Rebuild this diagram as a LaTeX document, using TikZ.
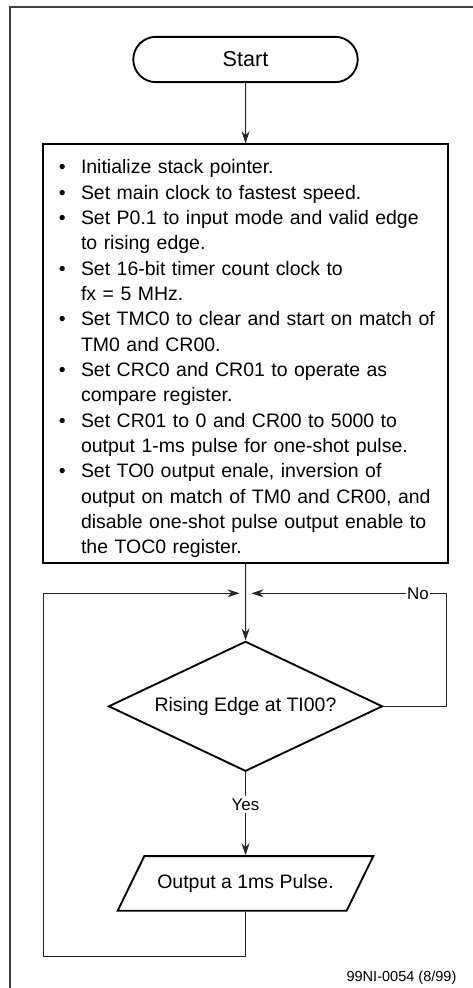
\documentclass[tikz,border=0pt]{standalone}
\usepackage{fontspec}
\setmainfont{Liberation Sans}
\usetikzlibrary{shapes.geometric,shapes.misc,arrows.meta}
\tikzset{flowline/.style={draw=black!85,line width=0.7pt},
    flowarrow/.style={flowline,-{Stealth[length=9pt,width=6pt]}},
    startstop/.style={rounded rectangle,draw,line width=1.4pt,minimum width=175pt,minimum height=34pt,
        font=\fontsize{16.2pt}{18pt}\selectfont},
    initbox/.style={rectangle,draw,line width=1.5pt,text width=288.75pt,inner xsep=7.5pt,
        minimum height=313.8pt,align=left,font=\fontsize{14.6pt}{19pt}\selectfont},
    decision/.style={diamond,draw,line width=1.4pt,aspect=2.1,inner sep=0pt,minimum width=205.5pt,
        minimum height=97.5pt,font=\fontsize{14.6pt}{18pt}\selectfont},
    iobox/.style={trapezium,trapezium left angle=64,trapezium right angle=116,draw,line width=1.4pt,
        inner xsep=9.75pt,inner ysep=13.65pt,font=\fontsize{14.6pt}{18pt}\selectfont},
    branchlabel/.style={fill=white,inner xsep=1pt,inner ysep=2pt,font=\fontsize{12.7pt}{14pt}\selectfont},
    frame/.style={draw=black!75,line width=1.3pt}}
\newcommand{\bitem}{\makebox[20.8pt][l]{\hspace{4.2pt}\textbullet}}
\newcommand{\bcont}{\hspace*{20.8pt}}

\begin{document}
\begin{tikzpicture}[x=0.75pt,y=0.75pt,yscale=-1,xscale=1]
\useasboundingbox (0,0) rectangle (473,988);

%Shape: Frame
\draw [frame] (10,988) -- (10,7) -- (473,7);

%Shape: Terminal
\node [startstop] (start) at (245.5,59.5) {Start};
%Shape: Rectangle
\node [initbox] (init) at (245.8,353.5) {%
\rule{0pt}{18.6pt}\bitem Initialize stack pointer.\\
\bitem Set main clock to fastest speed.\\
\bitem Set P0.1 to input mode and valid edge\\
\bcont to rising edge.\\
\bitem Set 16-bit timer count clock to\\
\bcont fx = 5 MHz.\\
\bitem Set TMC0 to clear and start on match of\\
\bcont TM0 and CR00.\\
\bitem Set CRC0 and CR01 to operate as\\
\bcont compare register.\\
\bitem Set CR01 to 0 and CR00 to 5000 to\\
\bcont output 1-ms pulse for one-shot pulse.\\
\bitem Set TO0 output enale, inversion of\\
\bcont output on match of TM0 and CR00, and\\
\bcont disable one-shot pulse output enable to\\
\bcont the TOC0 register.};
%Shape: Diamond
\node [decision] (edge) at (245.5,706.3) {Rising Edge at TI00?};
%Shape: Parallelogram
\node [iobox] (pulse) at (245.5,883.4) {Output a 1ms Pulse.};

\coordinate (merge) at (245.5,593.3);
\coordinate (noturn) at (446.7,593.3);
\coordinate (loopturn) at (43.3,956.7);

%Straight Lines
\draw [flowarrow] (start) -- (init);
\draw [flowarrow] (init) -- (edge);
\draw [flowarrow] (edge) -- node [branchlabel,pos=0.39] {Yes} (pulse);
%Loop Lines
\draw [flowarrow,shorten >=4.5pt] (edge.east) -| (noturn) -- node [branchlabel,pos=0.143] {No} (merge);
\draw [flowarrow,shorten >=4.5pt] (pulse.south) |- (loopturn) |- (merge);

% Text Node
\node [anchor=east,inner sep=0pt,font=\fontsize{10.9pt}{12pt}\selectfont] (figno) at (456.7,978) {99NI-0054 (8/99)};

\end{tikzpicture}
\end{document}
